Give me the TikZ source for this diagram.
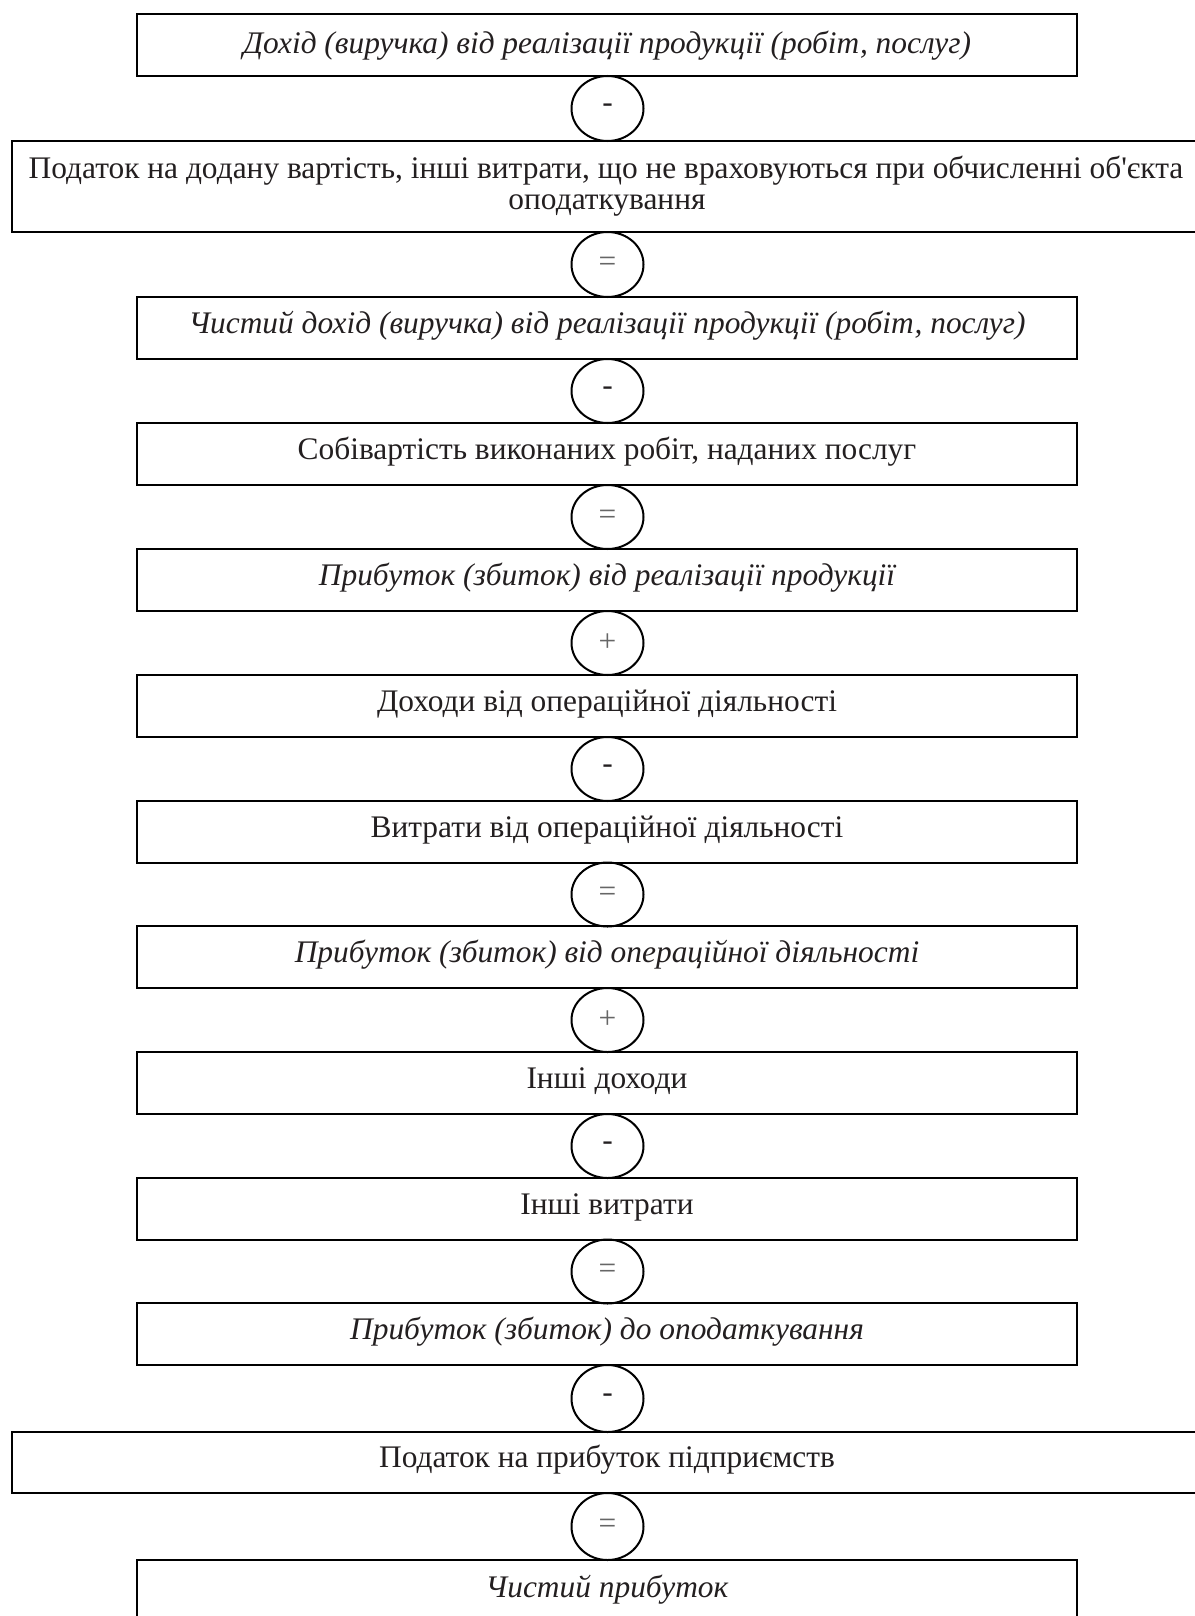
\documentclass[tikz,border=0pt]{standalone}
\usepackage{fontspec}
\setmainfont{Liberation Serif}[Ligatures=TeXOff]
\usetikzlibrary{shapes.geometric}
\definecolor{ink}{HTML}{231F20}
\begin{document}
\begin{tikzpicture}[x=0.5pt,y=-0.5pt,
  box/.style={draw=black,line width=1.2pt,rectangle,inner sep=0pt,minimum width=470pt},
  widebox/.style={draw=black,line width=1.2pt,rectangle,inner sep=0pt,minimum width=599pt},
  lbl/.style={anchor=base,inner sep=0pt,text=ink,font=\fontsize{15.7}{18}\selectfont},
  ilbl/.style={lbl,font=\fontsize{15.7}{18}\selectfont\itshape},
  op/.style={draw=black,line width=1pt,ellipse,inner sep=0pt,minimum width=36pt,font=\fontsize{15.7}{18}\selectfont},
  minus/.style={op,text=ink},
  eq/.style={op,text=black!60}
]
\useasboundingbox (0,0) rectangle (1194,1616);
% boxes
\node[box,minimum height=31pt] (b1) at (607,45) {};
\node[widebox,minimum height=45.5pt] (b2) at (611,186.5) {};
\node[box,minimum height=31pt] (b3) at (607,328) {};
\node[box,minimum height=31pt] (b4) at (607,454) {};
\node[box,minimum height=31pt] (b5) at (607,580) {};
\node[box,minimum height=31pt] (b6) at (607,706) {};
\node[box,minimum height=31pt] (b7) at (607,832) {};
\node[box,minimum height=31pt] (b8) at (607,957) {};
\node[box,minimum height=31pt] (b9) at (607,1083) {};
\node[box,minimum height=31pt] (b10) at (607,1209) {};
\node[box,minimum height=31pt] (b11) at (607,1334) {};
\node[widebox,minimum height=30.5pt] (b12) at (611,1462.5) {};
\node[box,minimum height=60pt] (b13) at (607,1620) {};
% texts
\node[ilbl] (t1) at (607,54) {Дохід (виручка) від реалізації продукції (робіт, послуг)};
\node[lbl] (t2a) at (606,178) {Податок на додану вартість, інші витрати, що не враховуються при обчисленні об'єкта};
\node[lbl] (t2b) at (607,209) {оподаткування};
\node[ilbl] (t3) at (607,333) {Чистий дохід (виручка) від реалізації продукції (робіт, послуг)};
\node[lbl] (t4) at (607,459) {Собівартість виконаних робіт, наданих послуг};
\node[ilbl] (t5) at (607,585) {Прибуток (збиток) від реалізації продукції};
\node[lbl] (t6) at (607,711) {Доходи від операційної діяльності};
\node[lbl] (t7) at (607,837) {Витрати від операційної діяльності};
\node[ilbl] (t8) at (607,962) {Прибуток (збиток) від операційної діяльності};
\node[lbl] (t9) at (607,1088) {Інші доходи};
\node[lbl] (t10) at (607,1214) {Інші витрати};
\node[ilbl] (t11) at (607,1339) {Прибуток (збиток) до оподаткування};
\node[lbl] (t12) at (607,1467) {Податок на прибуток підприємств};
\node[ilbl] (t13) at (607,1597) {Чистий прибуток};
% operators
\node[minus,minimum height=32.5pt] (o1) at (607.5,108.5) {-};
\node[eq,minimum height=32.5pt] (o2) at (607.5,264.5) {=};
\node[minus,minimum height=32pt] (o3) at (607.5,391) {-};
\node[eq,minimum height=32pt] (o4) at (607.5,517) {=};
\node[eq,minimum height=32pt] (o5) at (607.5,643) {+};
\node[minus,minimum height=32pt] (o6) at (607.5,769) {-};
\node[eq,minimum height=32pt] (o7) at (607.5,894.5) {=};
\node[eq,minimum height=32pt] (o8) at (607.5,1020) {+};
\node[minus,minimum height=32pt] (o9) at (607.5,1146) {-};
\node[eq,minimum height=32pt] (o10) at (607.5,1271.5) {=};
\node[minus,minimum height=33.5pt] (o11) at (607.5,1398.5) {-};
\node[eq,minimum height=33.5pt] (o12) at (607.5,1526.5) {=};
\end{tikzpicture}
\end{document}
